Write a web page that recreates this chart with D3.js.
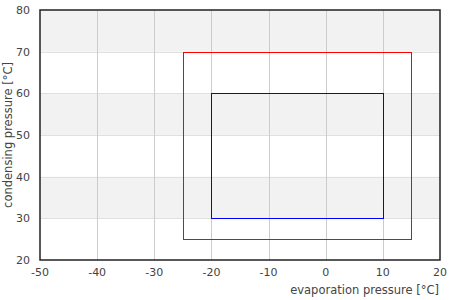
<!DOCTYPE html>
<html><head><meta charset="utf-8">
<script src="https://cdn.jsdelivr.net/npm/d3@7"></script>
<style>body{margin:0;background:#fff;} text{font-family:"DejaVu Sans",sans-serif;}</style>
</head><body>
<svg id="c" width="450" height="300"></svg>
<script>
const xTicks = [-50,-40,-30,-20,-10,0,10,20];
const yTicks = [20,30,40,50,60,70,80];
const bands = [[30,40],[50,60],[70,80]];
// envelope rectangles: [x0, x1, y0, y1]
const outerRect = [-25, 15, 25, 70];
const innerRect = [-20, 10, 30, 60];
const outerColor = "#ff0000";
const innerColor = "#0000ff";

const svg = d3.select("#c");
const x = d3.scaleLinear().domain([-50,20]).range([40,440]);
const y = d3.scaleLinear().domain([20,80]).range([260,10]);

svg.append("g").selectAll("rect").data(bands).join("rect")
  .attr("x", x(-50)).attr("width", x(20)-x(-50))
  .attr("y", d=>y(d[1])).attr("height", d=>y(d[0])-y(d[1]))
  .attr("fill", "#f2f2f2");

svg.append("g").selectAll("line").data(yTicks.slice(1,-1)).join("line")
  .attr("x1", x(-50)).attr("x2", x(20))
  .attr("y1", d=>Math.round(y(d))+0.5).attr("y2", d=>Math.round(y(d))+0.5)
  .attr("stroke", "#e0e0e0");
svg.append("g").selectAll("line").data(xTicks.slice(1,-1)).join("line")
  .attr("y1", y(20)).attr("y2", y(80))
  .attr("x1", d=>Math.round(x(d))+0.5).attr("x2", d=>Math.round(x(d))+0.5)
  .attr("stroke", "#cccccc");

function drawRect(r, col){
  const x0 = Math.round(x(r[0]))+0.5, x1 = Math.round(x(r[1]))+0.5;
  const y0 = Math.round(y(r[2]))+0.5, y1 = Math.round(y(r[3]))+0.5;
  svg.append("rect").attr("x", x0).attr("y", y1).attr("width", x1-x0).attr("height", y0-y1)
    .attr("fill","none").attr("stroke", col).attr("stroke-width",1);
}
drawRect(outerRect, outerColor);
drawRect(innerRect, innerColor);

// frame
svg.append("rect").attr("x", x(-50)).attr("y", y(80)).attr("width", x(20)-x(-50)).attr("height", y(20)-y(80))
  .attr("fill","none").attr("stroke","#222").attr("stroke-width",1.5);

svg.append("g").selectAll("text").data(xTicks).join("text")
  .attr("x", d=>x(d)).attr("y", 276).attr("text-anchor","middle")
  .attr("font-size", 11).attr("fill","#444").text(d=>d);
svg.append("g").selectAll("text").data(yTicks).join("text")
  .attr("x", 30).attr("y", d=>y(d)+4).attr("text-anchor","end")
  .attr("font-size", 11).attr("fill","#444").text(d=>d);

svg.append("text").attr("x", 439).attr("y", 294).attr("text-anchor","end")
  .attr("font-size", 11.5).attr("fill","#444").text("evaporation pressure [°C]");
svg.append("text").attr("transform", `translate(12,${(y(20)+y(80))/2}) rotate(-90)`)
  .attr("text-anchor","middle").attr("font-size", 11.5).attr("fill","#444").text("condensing pressure [°C]");
</script>
</body></html>
